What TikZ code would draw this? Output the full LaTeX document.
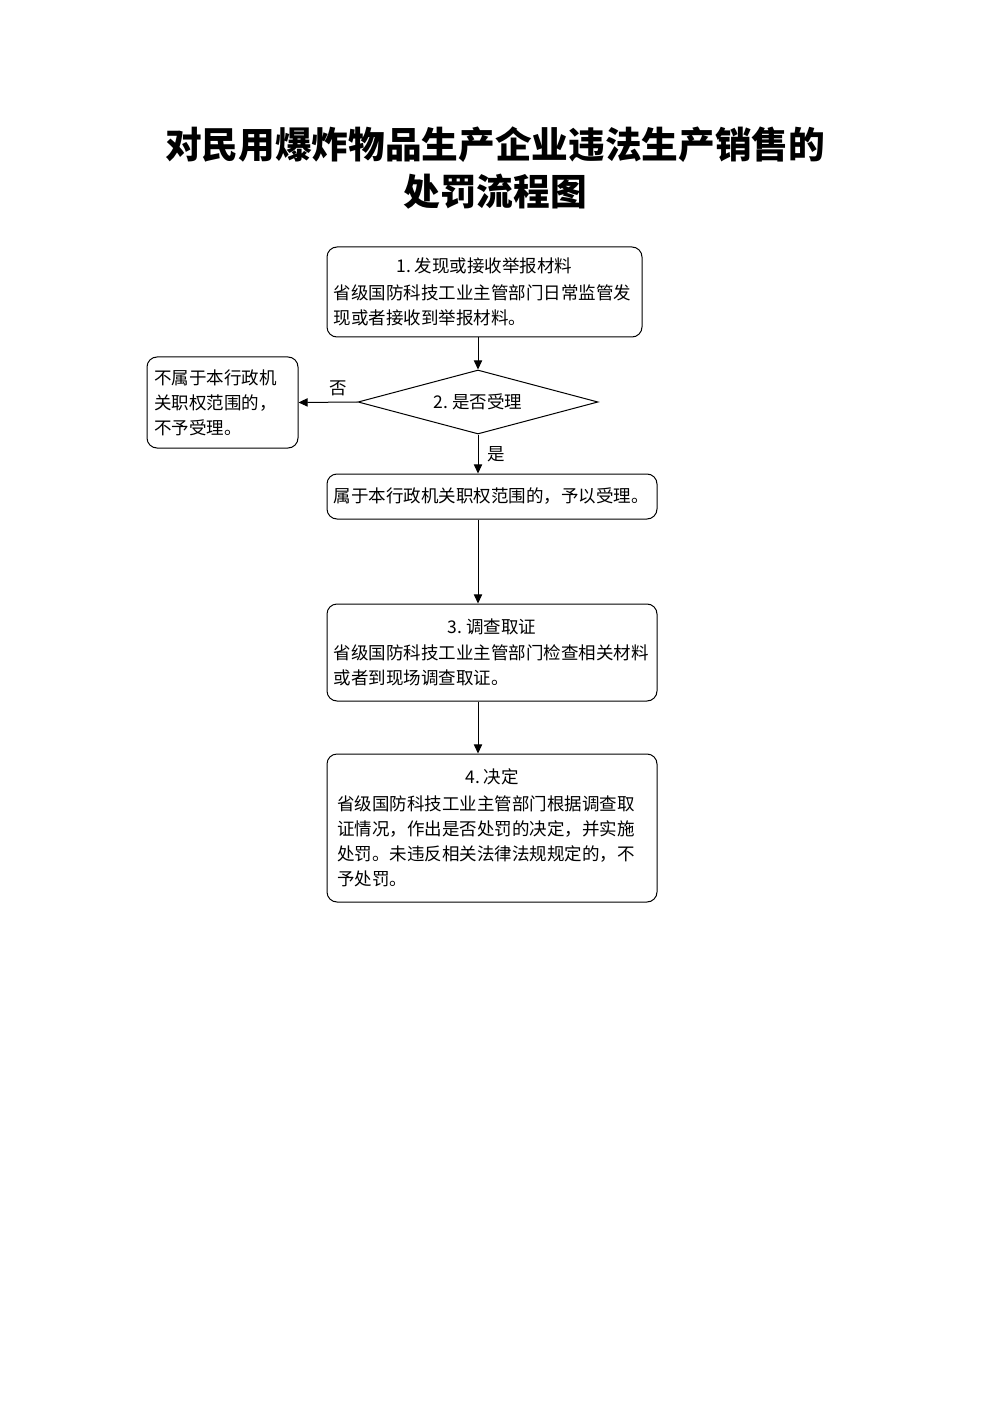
\documentclass[tikz,border=0pt]{standalone}
\usepackage{fontspec}
\setmainfont{Noto Sans CJK SC}
\usepackage{tikz}
\usetikzlibrary{shapes.geometric,arrows.meta}
\setlength{\parindent}{0pt}

\begin{document}
\begin{tikzpicture}[x=0.6pt, y=-0.6pt,
  box/.style={draw, line width=.6pt, rounded corners=6pt, inner xsep=4pt, inner ysep=2pt,
    font=\fontsize{10.5}{15}\selectfont},
  flow/.style={draw, line width=.6pt, -{Triangle[length=5.5pt,width=5pt]}},
  lbl/.style={font=\fontsize{10.5}{12}\selectfont}]
\useasboundingbox (0,0) rectangle (992,1403);
\node [align=center, font=\fontsize{22}{28.2}\selectfont\bfseries] (title) at (495,168)
  {对民用爆炸物品生产企业违法生产销售的\\处罚流程图};
\node [box, minimum width=189pt, minimum height=54pt, text width=181pt] (find) at (484.5,292)
  {\centering 1.\hspace{.2em}发现或接收举报材料\par\vspace{1pt}\raggedright
   省级国防科技工业主管部门日常监管发\\现或者接收到举报材料。};
\node [draw, line width=.6pt, diamond, aspect=3.75, inner sep=0pt, minimum width=144pt,
  minimum height=38.4pt, lbl] (ask) at (478,402) {2.\hspace{.2em}是否受理};
\node [box, minimum width=90.6pt, minimum height=54.6pt, text width=82pt] (reject) at (222.5,402.5)
  {不属于本行政机\\关职权范围的，\\不予受理。};
\node [box, minimum width=198pt, minimum height=27pt, text width=190pt] (accept) at (492,496.5)
  {属于本行政机关职权范围的，予以受理。};
\node [box, minimum width=198pt, minimum height=58.2pt, text width=190pt] (check) at (492,652.5)
  {\centering 3.\hspace{.2em}调查取证\par\vspace{1pt}\raggedright
   省级国防科技工业主管部门检查相关材料\\或者到现场调查取证。};
\node [box, minimum width=198pt, minimum height=88.8pt, text width=190pt] (decide) at (492,828)
  {\centering 4.\hspace{.2em}决定\par\vspace{1pt}\raggedright
   \hspace*{2pt}省级国防科技工业主管部门根据调查取\\
   \hspace*{2pt}证情况，作出是否处罚的决定，并实施\\
   \hspace*{2pt}处罚。未违反相关法律法规规定的，不\\
   \hspace*{2pt}予处罚。};
\path [flow] (find.south -| ask.north) -- (ask.north);
\path [flow] (ask.west) -- node [lbl, above, pos=.33] {否} (reject.east);
\path [flow] (ask.south) -- node [lbl, right, xshift=2pt] {是} (ask.south |- accept.north);
\path [flow] (accept.south -| ask.south) -- (ask.south |- check.north);
\path [flow] (check.south -| ask.south) -- (ask.south |- decide.north);
\end{tikzpicture}
\end{document}
